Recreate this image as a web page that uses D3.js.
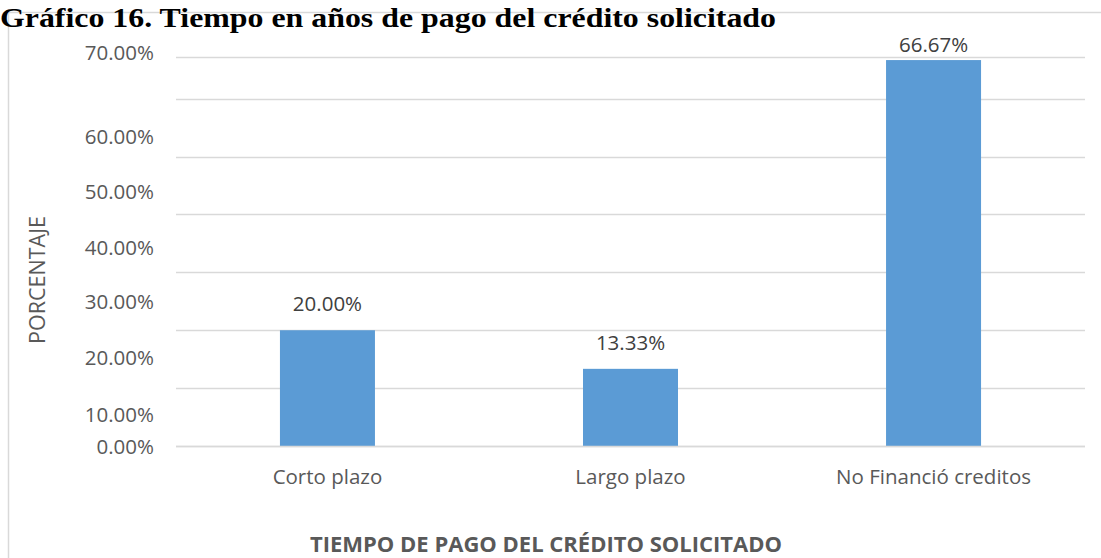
<!DOCTYPE html>
<html><head><meta charset="utf-8">
<script src="https://cdn.jsdelivr.net/npm/d3@7"></script>
<style>
html,body{margin:0;padding:0;background:#fff;}
svg{display:block;}
</style>
</head><body>
<svg id="c" width="1101" height="558"></svg>
<script>
// ---- data ----
const categories = ["Corto plazo", "Largo plazo", "No Financió creditos"];
const values = [0.20, 0.1333, 0.6667];
const dataLabels = ["20.00%", "13.33%", "66.67%"];
const gridValues = [0, 0.1, 0.2, 0.3, 0.4, 0.5, 0.6, 0.672];
const tickLabels = ["0.00%", "10.00%", "20.00%", "30.00%", "40.00%", "50.00%", "60.00%", "70.00%"];
const tickLabelAt = [0, 0.0553, 0.1537, 0.2505, 0.3438, 0.4405, 0.5355, 0.6806];
const titleText = "Gráfico 16. Tiempo en años de pago del crédito solicitado";
const xTitle = "TIEMPO DE PAGO DEL CRÉDITO SOLICITADO";
const yTitle = "PORCENTAJE";

// ---- layout ----
const svg = d3.select("#c");
const plot = {left: 176, right: 1085, top: 57, bottom: 446};
const x = d3.scaleBand().domain(categories).range([plot.left, plot.right])
  .paddingInner(0.6865).paddingOuter(0.343);
const y = d3.scaleLinear().domain([0, 0.672]).range([plot.bottom, plot.top]);
const FS = 20.5;

// chart border (top & left)
svg.append("path").attr("d", "M8.5,558 L8.5,12.5 L1101,12.5")
  .attr("fill", "none").attr("stroke", "#D9D9D9").attr("stroke-width", 1.5);

// gridlines
svg.append("g").selectAll("line").data(gridValues).join("line")
  .attr("x1", plot.left).attr("x2", plot.right)
  .attr("y1", d => Math.round(y(d)) + 0.5).attr("y2", d => Math.round(y(d)) + 0.5)
  .attr("stroke", "#D9D9D9").attr("stroke-width", 1.5);

// bars
svg.append("g").selectAll("rect").data(values).join("rect")
  .attr("x", (d, i) => x(categories[i]))
  .attr("width", x.bandwidth())
  .attr("y", d => y(d))
  .attr("height", d => y(0) - y(d))
  .attr("fill", "#5B9BD5");

// baseline redrawn over bars
svg.append("line").attr("x1", plot.left).attr("x2", plot.right)
  .attr("y1", Math.round(y(0)) + 0.5).attr("y2", Math.round(y(0)) + 0.5)
  .attr("stroke", "#D9D9D9").attr("stroke-width", 1.5);

// data labels
svg.append("g").selectAll("text").data(values).join("text")
  .attr("x", (d, i) => x(categories[i]) + x.bandwidth() / 2)
  .attr("y", d => Math.max(y(d) - 27, 44))
  .attr("text-anchor", "middle").attr("dominant-baseline", "central")
  .attr("font-family", "'Open Sans'").attr("font-size", FS)
  .attr("fill", "#404040")
  .text((d, i) => dataLabels[i]);

// y tick labels
svg.append("g").selectAll("text").data(tickLabels).join("text")
  .attr("x", 154)
  .attr("y", (d, i) => y(tickLabelAt[i]))
  .attr("text-anchor", "end").attr("dominant-baseline", "central")
  .attr("font-family", "'Open Sans'").attr("font-size", FS)
  .attr("fill", "#595959")
  .text(d => d);

// category labels
svg.append("g").selectAll("text").data(categories).join("text")
  .attr("x", d => x(d) + x.bandwidth() / 2)
  .attr("y", 476)
  .attr("text-anchor", "middle").attr("dominant-baseline", "central")
  .attr("font-family", "'Open Sans'").attr("font-size", FS)
  .attr("fill", "#595959")
  .text(d => d);

// axis titles
svg.append("text").attr("x", 546).attr("y", 543)
  .attr("text-anchor", "middle").attr("dominant-baseline", "central")
  .attr("font-family", "'Open Sans'").attr("font-weight", "bold").attr("font-size", 22)
  .attr("fill", "#595959").text(xTitle);

svg.append("text").attr("transform", "translate(36,280) rotate(-90)")
  .attr("text-anchor", "middle").attr("dominant-baseline", "central")
  .attr("font-family", "'Open Sans'").attr("font-size", 21.5)
  .attr("fill", "#595959").text(yTitle);

// chart title
svg.append("text").attr("x", 0).attr("y", 27)
  .attr("font-family", "'Liberation Serif'").attr("font-weight", "bold").attr("font-size", 28)
  .attr("textLength", 776).attr("lengthAdjust", "spacingAndGlyphs")
  .attr("fill", "#000").text(titleText);
</script>
</body></html>
